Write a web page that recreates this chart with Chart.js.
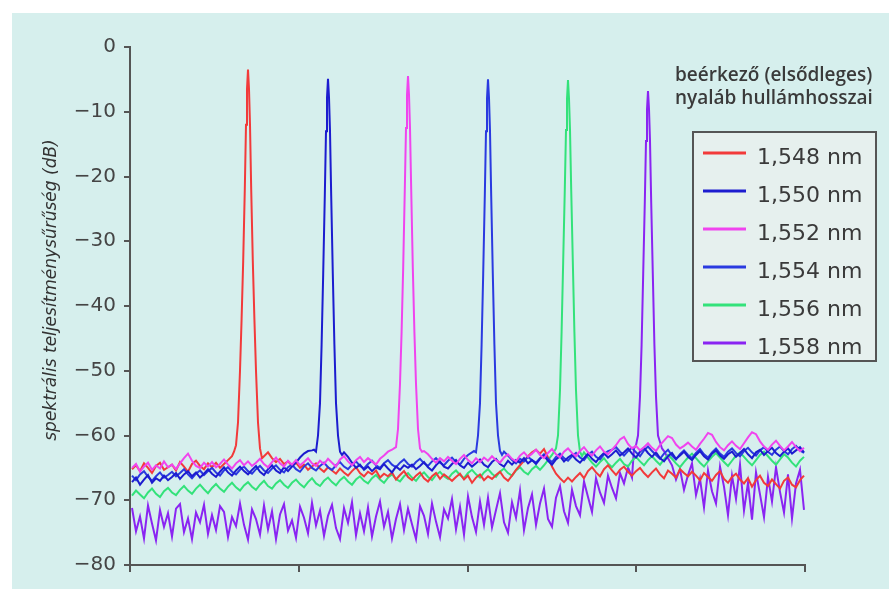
<!DOCTYPE html>
<html>
<head>
<meta charset="utf-8">
<script src="https://cdn.jsdelivr.net/npm/chart.js@4.4.1/dist/chart.umd.min.js"></script>
<style>
  html, body { margin: 0; padding: 0; background: #ffffff; }
  #spectrumChart { display: block; }
</style>
</head>
<body>
<canvas id="spectrumChart" width="889" height="589"></canvas>
<script>
// Wavelengths of the incoming beams (nm) and legend labels
const peakCenters = [1548, 1550, 1552, 1554, 1556, 1558];
const seriesLabels = ["1,548 nm", "1,550 nm", "1,552 nm", "1,554 nm", "1,556 nm", "1,558 nm"];
const seriesColors = ["#f23a3a", "#1c1ccf", "#f044ee", "#2a3ae0", "#33e27a", "#8a24f2"];

// x axis (nm) and its unlabeled ticks
const xMin = 1545.05;
const xMax = 1561.925;
const xTicks = [1545.05, 1549.27, 1553.49, 1557.71, 1561.925];
const yTicks = [0, -10, -20, -30, -40, -50, -60, -70, -80];

// noise floor sampled every 0.1 nm starting at 1545.1 nm (dB)
const gridStart = 1545.1;
const gridStep = 0.1;

const noise1548 = [
  -65.2, -64.6, -65.5, -64.3, -65.0, -65.8, -64.7, -64.2, -65.3, -64.9,
  -64.5, -65.4, -64.1, -64.8, -65.6, -64.4, -63.9, -64.7, -65.2, -64.3,
  -64.9, -64.2, -65.0, -64.4, -63.8, -63.2, -62.6, -62.2, -62.0, -62.0,
  -62.0, -62.3, -62.8, -63.2, -62.6, -63.5, -64.1, -63.6, -64.4, -64.0,
  -64.7, -64.2, -65.0, -64.5, -65.3, -64.8, -64.3, -65.1, -65.6, -64.9,
  -65.4, -65.9, -65.1, -65.7, -66.2, -65.5, -64.9, -65.8, -66.3, -65.6,
  -66.0, -65.4, -66.5, -65.9, -66.3, -65.7, -66.8, -66.1, -65.5, -66.4,
  -66.9, -66.2, -65.7, -66.6, -67.1, -66.3, -65.8, -66.7, -66.0, -66.5,
  -67.0, -66.4, -65.9, -66.8, -66.2, -67.3, -66.5, -66.0, -66.9, -66.3,
  -66.7, -66.1, -65.6, -66.5, -67.0, -66.2, -65.3, -64.6, -63.9, -63.2,
  -62.6, -62.2, -62.8, -62.1, -63.4, -64.8, -65.9, -66.6, -67.2, -66.5,
  -67.1, -66.4, -65.8, -66.6, -65.5, -64.9, -65.7, -66.3, -65.2, -64.6,
  -65.4, -66.1, -65.3, -64.8, -65.6, -66.2, -65.5, -65.0, -65.8, -66.4,
  -65.7, -65.1, -66.0, -66.6, -65.4, -65.9, -66.5, -65.2, -65.8, -66.3,
  -65.6, -66.2, -66.9, -65.8, -66.4, -67.0, -66.1, -65.5, -66.7, -67.3,
  -66.4, -65.9, -66.8, -67.4, -66.6, -67.9, -66.9, -66.2, -67.3, -67.8,
  -66.8, -67.5, -68.2, -67.0, -66.5, -67.6, -68.0, -66.9, -66.2];
const noise1550 = [
  -67.2, -66.5, -67.6, -66.8, -66.1, -67.3, -66.6, -67.0, -66.2, -66.9,
  -66.4, -65.8, -66.7, -66.0, -65.5, -66.3, -65.7, -66.5, -65.9, -65.2,
  -65.9, -66.4, -65.6, -64.9, -65.7, -66.2, -65.4, -64.8, -65.5, -66.0,
  -65.3, -64.7, -65.6, -66.1, -65.2, -64.6, -65.4, -65.8, -64.9, -65.5,
  -64.8, -64.2, -63.4, -62.8, -62.4, -62.3, -62.0, -62.0, -62.0, -62.0,
  -62.0, -62.0, -62.0, -62.6, -63.3, -64.2, -65.0, -64.5, -65.3, -64.8,
  -65.5, -64.9, -65.2, -64.4, -65.1, -65.7, -64.8, -65.3, -64.6, -65.0,
  -64.5, -65.2, -64.7, -64.1, -64.9, -65.4, -64.6, -64.0, -64.8, -65.1,
  -64.4, -63.8, -64.6, -65.0, -64.2, -64.8, -64.3, -63.7, -64.5, -64.9,
  -64.1, -63.6, -64.4, -64.8, -63.9, -64.5, -63.8, -64.2, -63.5, -64.3,
  -63.8, -64.4, -63.6, -63.1, -63.9, -64.5, -63.7, -63.2, -64.0, -63.4,
  -63.0, -63.7, -64.2, -63.5, -62.8, -63.6, -64.1, -63.3, -62.7, -63.4,
  -62.9, -62.3, -63.1, -62.6, -62.0, -62.8, -63.4, -62.5, -61.9, -62.7,
  -63.3, -62.6, -63.5, -64.0, -63.2, -62.7, -63.6, -63.1, -62.5, -63.3,
  -63.8, -63.0, -62.4, -63.2, -63.7, -62.8, -62.3, -63.1, -63.6, -62.9,
  -62.5, -63.3, -62.7, -62.1, -62.9, -63.5, -62.6, -62.2, -63.0, -62.4,
  -61.9, -62.7, -63.2, -62.5, -62.0, -62.8, -62.3, -61.8, -62.6];
const noise1552 = [
  -65.0, -64.4, -65.6, -64.8, -64.2, -65.3, -64.6, -65.1, -64.0, -64.9,
  -64.5, -65.2, -64.3, -63.5, -62.8, -63.9, -64.7, -65.0, -64.2, -64.8,
  -64.1, -64.9, -64.4, -63.7, -64.5, -65.1, -64.3, -63.8, -64.6, -64.0,
  -64.7, -64.2, -63.6, -64.4, -64.9, -64.1, -63.4, -64.3, -64.8, -63.9,
  -64.5, -63.8, -64.6, -64.1, -63.5, -64.3, -64.7, -63.9, -64.4, -63.6,
  -64.2, -64.8, -63.7, -63.2, -64.0, -64.6, -63.8, -63.3, -64.1, -63.5,
  -64.0, -64.5, -63.6, -63.1, -62.5, -62.2, -62.0, -62.0, -62.0, -62.0,
  -62.0, -62.0, -62.0, -62.4, -62.9, -63.6, -64.2, -63.5, -64.0, -63.3,
  -63.9, -64.4, -63.6, -63.0, -63.8, -64.3, -63.5, -64.1, -63.4, -63.9,
  -63.2, -63.8, -64.2, -63.4, -62.9, -63.6, -64.0, -63.1, -62.6, -63.3,
  -62.8, -62.2, -63.0, -63.5, -62.7, -62.1, -62.9, -63.4, -62.5, -62.0,
  -62.7, -63.2, -62.4, -61.8, -62.6, -63.1, -62.3, -61.7, -62.5, -62.9,
  -62.2, -61.5, -60.6, -60.2, -61.3, -62.0, -61.6, -62.3, -61.8, -61.2,
  -61.9, -62.4, -61.5, -60.8, -60.1, -60.4, -61.4, -62.0, -61.6, -61.1,
  -61.7, -62.2, -61.3, -60.5, -59.6, -59.9, -61.0, -61.8, -62.3, -61.5,
  -60.9, -61.6, -62.1, -61.2, -60.3, -59.5, -59.8, -60.9, -61.7, -62.2,
  -61.4, -60.8, -61.6, -62.3, -61.7, -61.0, -61.8, -62.4, -61.9];
const noise1554 = [
  -66.2, -66.9, -66.0, -65.5, -66.4, -67.0, -66.3, -65.7, -66.5, -66.1,
  -65.6, -66.3, -65.8, -65.2, -66.0, -66.6, -65.9, -65.4, -66.1, -65.5,
  -65.0, -65.7, -66.2, -65.4, -64.9, -65.6, -66.0, -65.3, -64.8, -65.5,
  -65.9, -65.2, -64.7, -65.4, -65.8, -65.1, -64.6, -65.3, -65.7, -64.9,
  -64.5, -65.2, -65.6, -64.8, -64.3, -65.0, -65.4, -64.7, -64.2, -64.9,
  -65.3, -64.6, -64.1, -64.8, -65.2, -64.5, -64.0, -64.7, -65.1, -64.4,
  -63.9, -64.6, -65.0, -64.3, -63.8, -64.5, -64.9, -64.2, -63.7, -64.4,
  -64.8, -64.1, -63.6, -64.3, -64.7, -64.0, -63.5, -64.2, -64.6, -63.9,
  -63.4, -64.1, -64.5, -63.6, -63.0, -62.6, -62.0, -62.0, -62.0, -62.0,
  -62.0, -62.0, -62.0, -62.5, -63.1, -63.8, -64.3, -63.6, -64.0, -63.3,
  -63.8, -64.2, -63.5, -62.9, -63.6, -64.1, -63.3, -62.8, -63.5, -63.9,
  -63.2, -62.7, -63.4, -63.8, -63.0, -62.5, -63.3, -63.7, -62.9, -62.4,
  -62.2, -61.8, -62.5, -63.1, -62.4, -61.9, -62.6, -63.2, -62.3, -61.7,
  -62.4, -63.0, -63.6, -62.8, -62.2, -63.1, -63.7, -62.9, -62.3, -63.0,
  -63.5, -62.7, -62.1, -62.9, -63.4, -62.6, -62.0, -62.8, -63.3, -62.5,
  -62.0, -62.7, -63.2, -62.4, -61.9, -62.6, -63.1, -62.3, -61.8, -62.5,
  -63.0, -62.2, -61.7, -62.4, -62.9, -62.1, -61.6, -62.3, -62.7];
const noise1556 = [
  -69.3, -68.5, -69.1, -69.7, -68.8, -68.2, -69.0, -69.5, -68.6, -68.1,
  -68.8, -69.2, -68.4, -67.8, -68.5, -69.0, -68.2, -67.6, -68.3, -68.9,
  -68.1, -67.5, -68.2, -68.7, -67.9, -67.3, -68.0, -68.5, -67.7, -67.2,
  -67.9, -68.4, -67.6, -67.0, -67.8, -68.2, -67.4, -66.9, -67.6, -68.1,
  -67.3, -66.8, -67.5, -68.0, -67.2, -66.6, -67.4, -67.8, -67.0, -66.5,
  -67.2, -67.7, -66.9, -66.4, -67.1, -67.6, -66.8, -66.3, -67.0, -67.4,
  -66.6, -66.1, -66.8, -67.3, -66.5, -66.0, -66.7, -67.1, -66.3, -65.8,
  -66.5, -67.0, -66.2, -65.7, -66.4, -66.9, -66.1, -65.6, -66.3, -66.7,
  -65.9, -65.4, -66.1, -66.6, -65.8, -65.3, -66.0, -66.5, -65.7, -65.2,
  -65.9, -66.4, -65.6, -65.1, -65.8, -66.2, -65.4, -64.9, -65.6, -66.0,
  -65.2, -64.7, -65.3, -64.6, -63.8, -63.0, -62.0, -62.0, -62.0, -62.0,
  -62.0, -62.0, -62.0, -62.6, -63.4, -64.2, -64.8, -64.1, -63.5, -64.3,
  -64.9, -64.2, -63.6, -64.4, -64.8, -63.9, -63.3, -64.0, -64.6, -63.8,
  -63.2, -63.9, -64.5, -63.7, -63.0, -63.6, -64.3, -64.9, -64.1, -63.4,
  -62.8, -63.5, -64.2, -64.8, -64.0, -63.3, -62.7, -63.4, -64.1, -64.7,
  -63.9, -63.1, -62.6, -63.3, -64.0, -64.6, -63.8, -63.0, -62.5, -63.2,
  -63.9, -64.5, -63.7, -62.9, -63.4, -64.2, -64.8, -63.9, -63.3];
const noise1558 = [
  -71.2, -74.8, -72.5, -75.9, -70.8, -73.6, -76.2, -71.5, -74.1, -72.0,
  -75.6, -71.3, -70.6, -74.9, -72.8, -76.0, -71.9, -73.4, -70.7, -75.2,
  -72.3, -74.6, -70.9, -71.8, -75.7, -72.6, -74.0, -70.5, -73.8, -76.1,
  -71.4, -72.9, -75.3, -70.8, -74.5, -71.7, -76.0, -72.2, -70.6, -74.7,
  -73.1, -75.8, -71.0, -72.7, -75.1, -70.4, -73.9, -71.6, -75.5, -72.4,
  -70.7, -74.3, -76.0, -71.2, -73.5, -70.3, -75.4, -72.0, -74.8, -71.1,
  -75.6, -72.5, -70.2, -74.1, -71.8, -75.9, -72.9, -70.6, -74.6, -71.3,
  -73.7, -76.0, -70.9, -72.4, -75.2, -70.5, -73.3, -75.7, -71.4, -72.8,
  -69.8, -74.5, -71.0, -75.3, -69.4, -72.6, -74.9, -70.2, -73.8, -69.6,
  -74.2, -71.5, -68.9, -73.4, -75.0, -70.3, -72.7, -68.5, -74.6, -71.2,
  -69.1, -73.8, -70.5, -68.2, -72.9, -74.1, -69.6, -67.8, -71.7, -73.5,
  -68.4, -70.9, -72.3, -67.1, -69.5, -71.8, -66.6, -68.8, -70.4, -66.2,
  -68.1, -69.7, -65.8, -67.4, -64.9, -66.5, -63.6, -62.8, -62.3, -62.0,
  -62.0, -62.0, -62.0, -62.4, -63.5, -64.6, -66.8, -65.2, -68.4, -66.1,
  -64.3, -69.2, -66.7, -71.1, -65.4, -68.6, -70.5, -64.8, -67.9, -72.3,
  -66.2, -69.8, -64.5, -71.6, -67.3, -73.0, -65.7, -69.1, -72.6, -66.4,
  -70.2, -64.9, -68.7, -71.9, -66.0, -72.8, -67.4, -65.3, -71.5];

// peak profiles: offsets from the centre wavelength (nm) and levels (dB)
const peakOffsets = [-0.35, -0.3, -0.25, -0.2, -0.16, -0.12, -0.08, -0.05, -0.025, 0, 0.025, 0.05, 0.08, 0.12, 0.16, 0.2, 0.25, 0.3, 0.35];
const peak1548 = [-62.5, -61.5, -58, -50, -42, -33, -22, -12, -6.5, -3.5, -6.5, -12, -22, -33, -42, -50, -58, -62, -63.5];
const peak1550 = [-62.2, -62.5, -60, -55, -46, -35, -23, -13, -7.8, -4.9, -7.8, -13, -23, -35, -46, -55, -60, -62.5, -63];
const peak1552 = [-62.0, -61.8, -59, -52, -44, -34, -22, -12.5, -7.4, -4.5, -7.4, -12.5, -22, -34, -44, -52, -59, -62, -62.5];
const peak1554 = [-62.4, -62.6, -60, -55, -46, -35, -23, -13, -7.9, -5, -7.9, -13, -23, -35, -46, -55, -60, -62.4, -63];
const peak1556 = [-62.5, -62, -60, -53, -44, -33, -22, -12.8, -8, -5.1, -8, -12.8, -22, -33, -44, -53, -60, -62.5, -63.2];
const peak1558 = [-62, -61.5, -60, -54, -46, -35, -24, -14.5, -9.6, -6.8, -9.6, -14.5, -24, -35, -46, -54, -60, -61, -62];

const noiseSeries = [noise1548, noise1550, noise1552, noise1554, noise1556, noise1558];
const peakSeries = [peak1548, peak1550, peak1552, peak1554, peak1556, peak1558];

// merge the noise floor with the peak profile of each beam
function buildSpectrum(noise, peak, center) {
    const pts = [];
    noise.forEach((y, i) => {
        const x = gridStart + i * gridStep;
        if (Math.abs(x - center) > 0.38) pts.push({ x: x, y: y });
    });
    peak.forEach((y, i) => pts.push({ x: center + peakOffsets[i], y: y }));
    return pts.sort((a, b) => a.x - b.x);
}

// lower order is drawn on top
const drawOrder = [4, 2, 1, 3, 5, 6];

const datasets = peakCenters.map((c, k) => ({
    label: seriesLabels[k],
    data: buildSpectrum(noiseSeries[k], peakSeries[k], c),
    borderColor: seriesColors[k],
    backgroundColor: seriesColors[k],
    borderWidth: 2,
    pointRadius: 0,
    tension: 0,
    order: drawOrder[k],
}));

const backgroundPlugin = {
    id: "pageBackground",
    beforeDraw(chart) {
        const ctx = chart.ctx;
        ctx.save();
        ctx.fillStyle = "#ffffff";
        ctx.fillRect(0, 0, chart.width, chart.height);
        ctx.fillStyle = "#d6efed";
        ctx.fillRect(12, 13, chart.width - 12, chart.height - 13);
        ctx.restore();
    },
};

const annotationPlugin = {
    id: "boxLegend",
    afterDraw(chart) {
        const ctx = chart.ctx;
        ctx.save();

        // y axis title
        ctx.translate(52, 290);
        ctx.rotate(-Math.PI / 2);
        ctx.fillStyle = "#333333";
        ctx.font = "italic 17px 'DejaVu Sans'";
        ctx.textAlign = "center";
        ctx.textBaseline = "middle";
        ctx.fillText("spektrális teljesítménysűrűség (dB)", 0, 0);
        ctx.setTransform(1, 0, 0, 1, 0, 0);

        // legend heading
        ctx.fillStyle = "#3a3a3a";
        ctx.font = "600 19px 'Open Sans'";
        ctx.textAlign = "left";
        ctx.textBaseline = "alphabetic";
        ctx.fillText("beérkező (elsődleges)", 675, 81);
        ctx.fillText("nyaláb hullámhosszai", 675, 104);

        // legend box
        ctx.fillStyle = "#e6f0ee";
        ctx.fillRect(693, 132, 183, 229);
        ctx.strokeStyle = "#555555";
        ctx.lineWidth = 2;
        ctx.strokeRect(693, 132, 183, 229);

        ctx.font = "22px 'DejaVu Sans'";
        chart.data.datasets.forEach((ds, k) => {
            const y = 153 + k * 38;
            ctx.strokeStyle = ds.borderColor;
            ctx.lineWidth = 3;
            ctx.beginPath();
            ctx.moveTo(703, y);
            ctx.lineTo(746, y);
            ctx.stroke();
            ctx.fillStyle = "#3a3a3a";
            ctx.fillText(ds.label, 757, y + 11);
        });
        ctx.restore();
    },
};

new Chart(document.getElementById("spectrumChart").getContext("2d"), {
    type: "line",
    data: { datasets: datasets },
    options: {
        responsive: false,
        animation: false,
        layout: { padding: { top: 47, right: 84, bottom: 0, left: 0 } },
        plugins: {
            legend: { display: false },
            tooltip: { enabled: false },
        },
        scales: {
            x: {
                type: "linear",
                min: xMin,
                max: xMax,
                afterBuildTicks: (scale) => {
                    scale.ticks = xTicks.map((v) => ({ value: v }));
                },
                afterFit: (scale) => {
                    scale.height = 24;
                },
                ticks: { display: false },
                grid: { drawOnChartArea: false, drawTicks: true, tickLength: 7, color: "#555555", lineWidth: 2 },
                border: { display: true, color: "#555555", width: 2 },
            },
            y: {
                min: -80,
                max: 0,
                afterBuildTicks: (scale) => {
                    scale.ticks = yTicks.map((v) => ({ value: v }));
                },
                afterFit: (scale) => {
                    scale.width = 130;
                },
                ticks: {
                    color: "#454545",
                    padding: 8,
                    font: { family: "'DejaVu Sans'", size: 20 },
                    callback: (v) => (v === 0 ? "0" : "\u2212" + Math.abs(v)),
                },
                grid: { drawOnChartArea: false, drawTicks: true, tickLength: 6, color: "#555555", lineWidth: 2 },
                border: { display: true, color: "#555555", width: 2 },
            },
        },
    },
    plugins: [backgroundPlugin, annotationPlugin],
});
</script>
</body>
</html>
